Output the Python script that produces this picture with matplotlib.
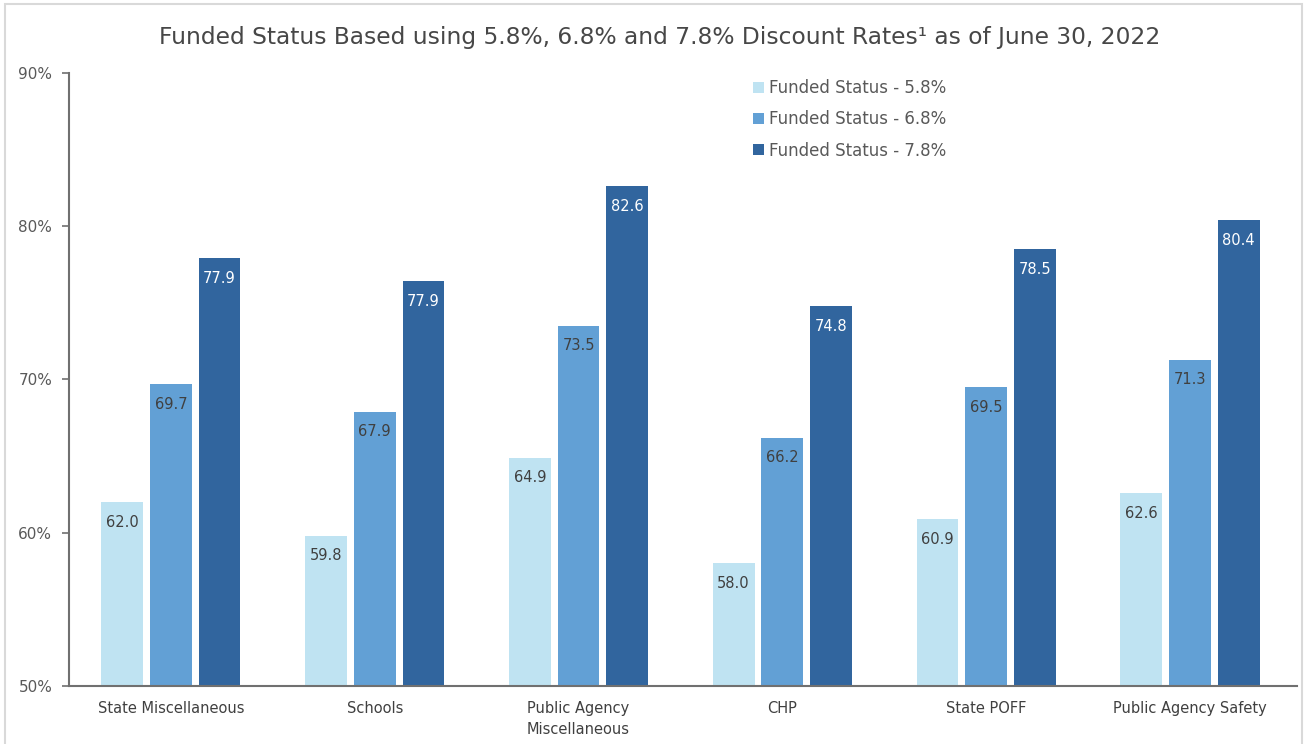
import numpy as np
import matplotlib.pyplot as plt
from matplotlib.patches import Rectangle

categories = ["State Miscellaneous", "Schools", "Public Agency\nMiscellaneous",
              "CHP", "State POFF", "Public Agency Safety"]
series_names = ["Funded Status - 5.8%", "Funded Status - 6.8%", "Funded Status - 7.8%"]
# bar heights as drawn
fs_58 = [62.0, 59.8, 64.9, 58.0, 60.9, 62.6]
fs_68 = [69.7, 67.9, 73.5, 66.2, 69.5, 71.3]
fs_78 = [77.9, 76.4, 82.6, 74.8, 78.5, 80.4]
# labels as printed (Schools 7.8% label reads 77.9 in the source)
lab_58 = ["62.0", "59.8", "64.9", "58.0", "60.9", "62.6"]
lab_68 = ["69.7", "67.9", "73.5", "66.2", "69.5", "71.3"]
lab_78 = ["77.9", "77.9", "82.6", "74.8", "78.5", "80.4"]

colors = ["#BFE3F2", "#62A0D5", "#31659E"]
text_colors = ["#404040", "#404040", "white"]

fig = plt.figure(figsize=(13.06, 7.44), dpi=100)
ax = fig.add_axes([0.0528, 0.078, 0.9403, 0.8239])

x = np.arange(len(categories))
w = 0.205
offs = [-0.239, 0, 0.239]
data = [fs_58, fs_68, fs_78]
labs = [lab_58, lab_68, lab_78]

for i in range(3):
    ax.bar(x + offs[i], data[i], w, bottom=0, color=colors[i], label=series_names[i], zorder=2)
    for j in range(len(x)):
        ax.annotate(labs[i][j], (x[j] + offs[i], data[i][j]), xytext=(0, -14.5),
                    textcoords="offset points", ha="center", va="center",
                    fontsize=10.5, color=text_colors[i])

ax.set_xlim(-0.5, len(categories) - 0.475)
ax.set_ylim(50, 90)
ax.set_yticks([50, 60, 70, 80, 90])
ax.set_yticklabels(["50%", "60%", "70%", "80%", "90%"])
ax.set_xticks(x)
ax.set_xticklabels(categories, linespacing=1.45)
ax.tick_params(axis="x", length=0, pad=11, labelsize=10.5, labelcolor="#404040")
ax.tick_params(axis="y", length=5, width=1.2, color="#707070", pad=7, labelsize=11, labelcolor="#595959")
for s in ["top", "right"]:
    ax.spines[s].set_visible(False)
for s in ["left", "bottom"]:
    ax.spines[s].set_color("#707070")
    ax.spines[s].set_linewidth(1.5)

fig.text(0.505, 0.949, "Funded Status Based using 5.8%, 6.8% and 7.8% Discount Rates\u00b9 as of June 30, 2022",
         ha="center", va="center", fontsize=16.8, color="#474747")

leg = ax.legend(loc="upper left", bbox_to_anchor=(0.565, 0.914), bbox_transform=fig.transFigure,
                frameon=False, fontsize=12, handlelength=0.65, handleheight=0.65,
                handletextpad=0.3, labelspacing=0.8)
for t in leg.get_texts():
    t.set_color("#595959")

fig.patches.append(Rectangle((0.004, -0.01), 0.993, 1.005, transform=fig.transFigure,
                             fill=False, edgecolor="#D9D9D9", linewidth=1.5))

fig.savefig("out.png", dpi=100)
